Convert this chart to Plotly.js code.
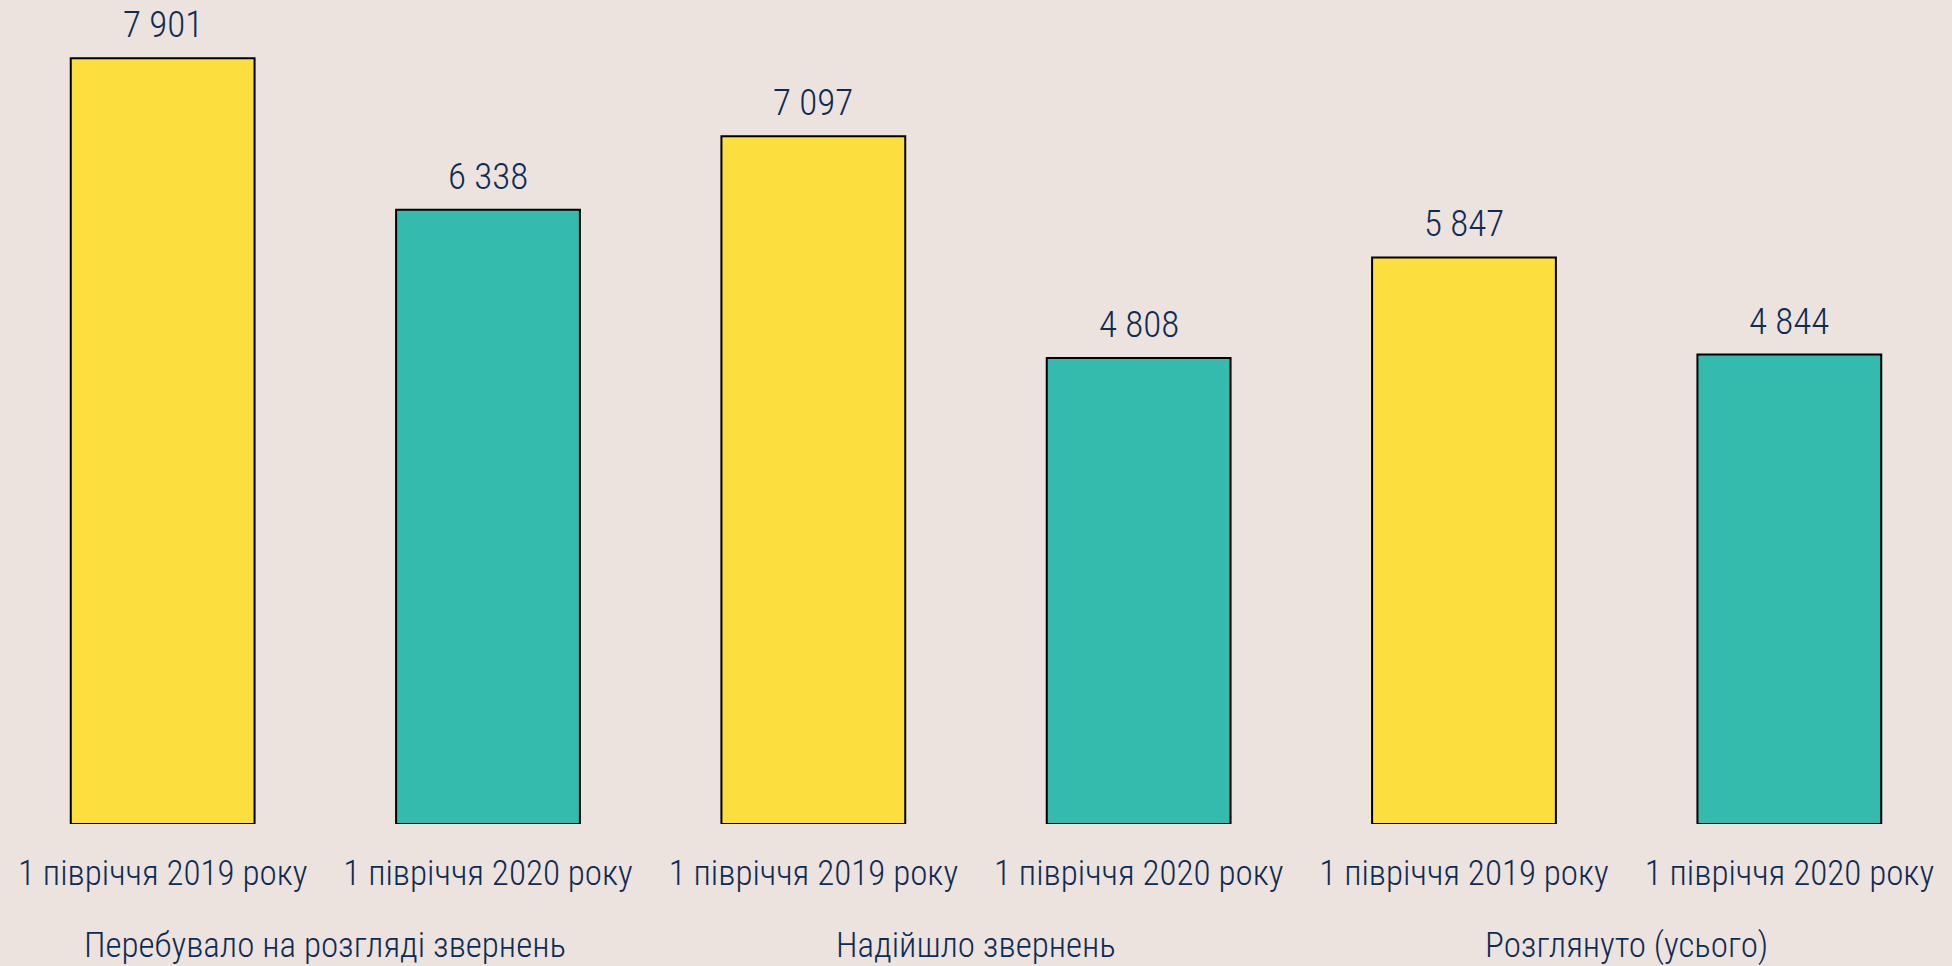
<!DOCTYPE html>
<html>
<head>
<meta charset="utf-8">
<script src="https://cdn.plot.ly/plotly-3.0.1.min.js"></script>
<style>html,body{margin:0;padding:0;background:#ece2de;}#chart{width:1952px;height:966px;}</style>
</head>
<body>
<div id="chart"></div>
<script>
const categories = ["1 півріччя 2019 року","1 півріччя 2020 року","1 півріччя 2019 року","1 півріччя 2020 року","1 півріччя 2019 року","1 півріччя 2020 року"];
const values = [7901, 6338, 7097, 4808, 5847, 4844];
const barColors = ["#fcde3e","#34bbae","#fcde3e","#34bbae","#fcde3e","#34bbae"];
const groups = ["Перебувало на розгляді звернень","Надійшло звернень","Розглянуто (усього)"];

const FONT = "'Roboto Condensed','Liberation Sans Narrow','Arial Narrow',sans-serif";
const TXT = "#0d2c54";
const idx = values.map((v,i)=>i);

const annotations = [];
values.forEach((v,i)=>{
  annotations.push({x:i, y:v, xref:'x', yref:'y', text:v.toLocaleString('uk-UA').replace(/\s/g,' '),
    showarrow:false, yanchor:'bottom', yshift:10, font:{family:FONT, size:37, color:TXT, weight:300}});
});
groups.forEach((g,k)=>{
  annotations.push({x:2*k+0.5, y:-0.147, xref:'x', yref:'paper', text:g, showarrow:false,
    yanchor:'middle', font:{family:FONT, size:35, color:TXT, weight:300}});
});

Plotly.newPlot('chart', [{
  type:'bar', x:idx, y:values, width:0.565,
  marker:{color:barColors, line:{color:'#000000', width:2}},
  hoverinfo:'none'
}], {
  width:1952, height:966,
  margin:{l:0, r:0, t:0, b:142},
  paper_bgcolor:'#ece2de', plot_bgcolor:'#ece2de',
  showlegend:false,
  xaxis:{range:[-0.5,5.5], tickvals:idx, ticktext:categories, showgrid:false, zeroline:false,
    showline:false, ticks:'outside', ticklen:18, tickcolor:'rgba(0,0,0,0)',
    tickfont:{family:FONT, size:35, color:TXT, weight:300}, fixedrange:true},
  yaxis:{range:[0,8503], visible:false, showgrid:false, zeroline:false, fixedrange:true},
  annotations:annotations
}, {displayModeBar:false, staticPlot:true});
</script>
</body>
</html>
